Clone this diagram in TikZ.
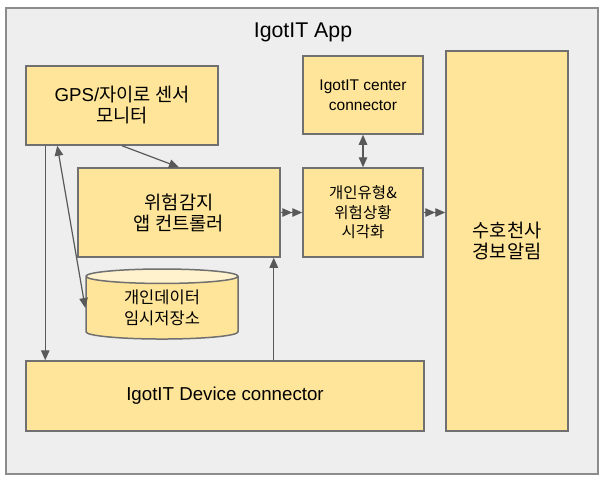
\documentclass[tikz,border=0pt]{standalone}
\usepackage{fontspec}
\setmainfont{Liberation Sans}
\newfontfamily\kr{Noto Sans CJK KR}
\usetikzlibrary{arrows.meta,shapes.geometric,positioning}
\definecolor{igyellow}{HTML}{FFE599}
\definecolor{iglight}{HTML}{FFF2CC}
\definecolor{igborder}{HTML}{707070}
\definecolor{igback}{HTML}{EEEEEE}
\definecolor{igframe}{HTML}{8C8C8C}
\definecolor{igarrow}{HTML}{595959}
\tikzstyle{block} = [rectangle, draw=igborder, fill=igyellow, line width=1.5pt, inner sep=0pt, text centered, align=center, font=\fontsize{18.7}{21}\selectfont]
\tikzstyle{small} = [font=\fontsize{15.5}{19.5}\selectfont]
\tikzstyle{store} = [cylinder, shape border rotate=90, aspect=0.19, draw=igborder, line width=1.5pt, cylinder uses custom fill, cylinder body fill=igyellow, cylinder end fill=iglight, inner sep=0pt, align=center, font=\fontsize{16.5}{20.5}\selectfont]
\tikzstyle{arrow} = [line width=1.2pt, color=igarrow, -{Triangle[length=10pt,width=8.5pt]}]
\tikzstyle{twoway} = [line width=1.2pt, color=igarrow, {Triangle[length=10pt,width=8.5pt]}-{Triangle[length=10pt,width=8.5pt]}]
\tikzstyle{double} = [line width=1.2pt, color=igarrow, -{Triangle[length=10pt,width=8.5pt]Triangle[length=10pt,width=8.5pt]}]
\begin{document}
\begin{tikzpicture}[x=1pt, y=-1pt]
\useasboundingbox (0,0) rectangle (611,485);
% App frame
\draw[draw=igframe, fill=igback, line width=1.5pt] (6,8) rectangle (598,474);
\node (title) at (303,32) [font=\fontsize{21.3}{24}\selectfont] {IgotIT App};

% Blocks
\node (gps) at (122,105.5) [block, minimum width=192pt, minimum height=79pt] {GPS/{\kr 자이로 센서}\\{\kr 모니터}};
\node (center) at (363,95) [block, small, minimum width=120pt, minimum height=78pt] {IgotIT center\\connector};
\node (angel) at (507,241) [block, minimum width=122pt, minimum height=380pt] {\kr 수호천사\\\kr 경보알림};
\node (risk) at (179,212.5) [block, minimum width=202pt, minimum height=89pt] {\kr 위험감지\\\kr 앱 컨트롤러};
\node (vis) at (363,212.5) [block, small, minimum width=120pt, minimum height=89pt] {\kr 개인유형\&\\\kr 위험상황\\\kr 시각화};
\node (temp) at (162,304) [store, minimum width=152pt, minimum height=70pt, yshift=-4pt] {\kr 개인데이터\\\kr 임시저장소};
\node (dev) at (225,396) [block, minimum width=398pt, minimum height=70pt] {IgotIT Device connector};

% Connectors
\coordinate (devup) at ([xshift=-7pt]risk.south east);
\draw[arrow] ([xshift=20pt]gps.south west) -- ([xshift=20pt]dev.north west);
\draw[twoway] ([xshift=32pt]gps.south west) -- (temp.west);
\draw[arrow] (gps.south) -- (risk.north);
\draw[arrow] (dev.north -| devup) -- (devup);
\draw[double] (risk.east) -- (vis.west);
\draw[double] (vis.east) -- (vis.east -| angel.west);
\draw[twoway] (center.south) -- (vis.north);
\end{tikzpicture}
\end{document}
